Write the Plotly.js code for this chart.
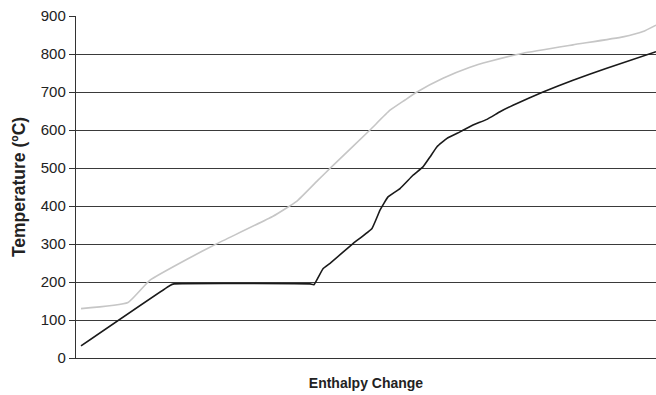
<!DOCTYPE html>
<html>
<head>
<meta charset="utf-8">
<script src="https://cdn.plot.ly/plotly-3.0.1.min.js"></script>
<style>html,body{margin:0;padding:0;background:#fff;}#chart{width:656px;height:395px;}</style>
</head>
<body>
<div id="chart"></div>
<script>
// Enthalpy change (arbitrary units) and temperature (ºC)
const blackEnthalpy = [5, 94, 98, 234, 238, 247, 254, 277, 296, 304, 312, 324, 337, 347, 354, 361, 371, 384, 397, 411, 424, 437, 467, 497, 530, 580];
const blackTemp     = [32, 191, 195, 195, 193, 235, 249, 301, 341, 389, 424, 446, 481, 503, 529, 556, 578, 595, 613, 628, 648, 665, 700, 731, 762, 806];
const grayEnthalpy  = [5, 52, 74, 111, 141, 197, 221, 242, 254, 294, 314, 329, 341, 367, 394, 413, 447, 497, 547, 567, 580];
const grayTemp      = [130, 146, 205, 260, 301, 373, 413, 468, 499, 600, 652, 679, 700, 736, 765, 780, 802, 824, 845, 859, 876];
const yTicks = [0, 100, 200, 300, 400, 500, 600, 700, 800, 900];

const traces = [
  {x: grayEnthalpy, y: grayTemp, type: 'scatter', mode: 'lines',
   line: {color: '#c6c6c6', width: 1.6, shape: 'spline', smoothing: 0.4}, hoverinfo: 'skip'},
  {x: blackEnthalpy, y: blackTemp, type: 'scatter', mode: 'lines',
   line: {color: '#1a1a1a', width: 1.6, shape: 'spline', smoothing: 0.3}, hoverinfo: 'skip'}
];

const layout = {
  width: 656, height: 395,
  margin: {l: 76, r: 0, t: 16, b: 37},
  paper_bgcolor: '#fff', plot_bgcolor: '#fff',
  showlegend: false,
  font: {family: 'Liberation Sans, Arial, sans-serif', color: '#222'},
  xaxis: {
    range: [0, 580], showticklabels: false, showgrid: false, zeroline: false,
    showline: true, linecolor: '#333', linewidth: 1.2, ticks: '',
    title: {text: 'Enthalpy Change', font: {size: 14, color: '#222', family: 'Liberation Sans, Arial, sans-serif', weight: 'bold'}, standoff: 20}
  },
  yaxis: {
    range: [0, 900], tickvals: yTicks, ticktext: yTicks.map(String),
    showgrid: true, gridcolor: '#3a3a3a', gridwidth: 1, zeroline: false,
    showline: true, linecolor: '#333', linewidth: 1.2,
    ticks: 'outside', ticklen: 6, tickcolor: '#333', tickwidth: 1,
    tickfont: {size: 15, color: '#222'},
    title: {text: 'Temperature (ºC)', font: {size: 17.5, color: '#222', family: 'Liberation Sans, Arial, sans-serif', weight: 'bold'}, standoff: 10}
  }
};

Plotly.newPlot('chart', traces, layout, {staticPlot: true, displayModeBar: false});
</script>
</body>
</html>
